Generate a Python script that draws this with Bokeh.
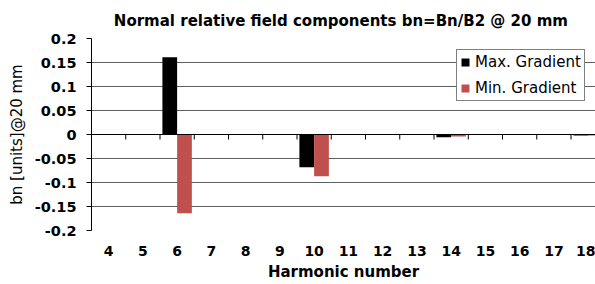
from bokeh.plotting import figure
from bokeh.models import ColumnDataSource, FixedTicker, Legend, LegendItem, Span
from bokeh.transform import dodge
from bokeh.embed import file_html
from bokeh.resources import INLINE

# ---- data ----
harmonics = [4, 5, 6, 7, 8, 9, 10, 11, 12, 13, 14, 15, 16, 17, 18]
max_gradient = [0, 0, 0.161, 0, 0, 0, -0.068, 0, 0, 0, -0.0055, 0, 0, 0, -0.002]
min_gradient = [0, 0, -0.164, 0, 0, 0, -0.087, 0, 0, 0, -0.004, 0, 0, 0, -0.002]
y_ticks = [-0.2, -0.15, -0.1, -0.05, 0, 0.05, 0.1, 0.15, 0.2]
y_tick_labels = ["-0.2", "-0.15", "-0.1", "-0.05", "0", "0.05", "0.1", "0.15", "0.2"]
series_names = ["Max. Gradient", "Min. Gradient"]
series_colors = ["#000000", "#c0504d"]
title_text = "Normal  relative field components bn=Bn/B2 @ 20 mm"
x_label = "Harmonic number"
y_label = "bn [units]@20 mm"

src = ColumnDataSource(dict(x=harmonics, mx=max_gradient, mn=min_gradient))

p = figure(width=595, height=284, output_backend="svg", toolbar_location=None,
           x_range=(3.5, 18.215), y_range=(-0.2, 0.2),
           min_border_left=91, min_border_right=0, min_border_top=36, min_border_bottom=54)
p.outline_line_color = None
p.background_fill_color = "white"
p.border_fill_color = "white"

p.title.text = title_text
p.title.text_font = "DejaVu Sans"
p.title.text_font_style = "bold"
p.title.text_font_size = "15px"
p.title.align = "center"
p.title.text_color = "#000000"
p.title.standoff = 18
p.title.text_line_height = 0.6

# bars
w = 0.43
r1 = p.vbar(x=dodge("x", -w / 2, range=p.x_range), top="mx", bottom=0, width=w,
            source=src, fill_color=series_colors[0], line_color=None)
r2 = p.vbar(x=dodge("x", w / 2, range=p.x_range), top="mn", bottom=0, width=w,
            source=src, fill_color=series_colors[1], line_color=None)

# zero line with category tick marks
p.add_layout(Span(location=0, dimension="width", line_color="#000000", line_width=1))
bounds = [h + 0.5 for h in harmonics[:-1]]
p.segment(x0=bounds, x1=bounds, y0=[0] * len(bounds), y1=[-0.0105] * len(bounds),
          line_color="#000000", line_width=1)

# grid
p.xgrid.grid_line_color = None
p.ygrid.ticker = FixedTicker(ticks=y_ticks)
p.ygrid.grid_line_color = "#5e5e5e"
p.ygrid.grid_line_width = 1

# y axis
p.yaxis.ticker = FixedTicker(ticks=y_ticks)
p.yaxis.major_label_overrides = {t: l for t, l in zip(y_ticks, y_tick_labels)}
p.yaxis.axis_line_color = "#000000"
p.yaxis.major_tick_line_color = "#000000"
p.yaxis.major_tick_out = 5
p.yaxis.major_tick_in = 0
p.yaxis.minor_tick_line_color = None
p.yaxis.major_label_standoff = 10
p.yaxis.major_label_text_font = "DejaVu Sans"
p.yaxis.major_label_text_font_style = "bold"
p.yaxis.major_label_text_font_size = "14.5px"
p.yaxis.major_label_text_color = "#000000"
p.yaxis.axis_label = y_label
p.yaxis.axis_label_text_font = "DejaVu Sans"
p.yaxis.axis_label_text_font_style = "normal"
p.yaxis.axis_label_text_font_size = "15px"
p.yaxis.axis_label_text_color = "#000000"
p.yaxis.axis_label_standoff = 6

# x axis (labels only, at the bottom)
p.xaxis.ticker = FixedTicker(ticks=harmonics)
p.xaxis.axis_line_color = None
p.xaxis.major_tick_line_color = None
p.xaxis.minor_tick_line_color = None
p.xaxis.major_label_standoff = 9
p.xaxis.major_label_text_font = "DejaVu Sans"
p.xaxis.major_label_text_font_style = "bold"
p.xaxis.major_label_text_font_size = "14px"
p.xaxis.major_label_text_color = "#000000"
p.xaxis.axis_label = x_label
p.xaxis.axis_label_text_font = "DejaVu Sans"
p.xaxis.axis_label_text_font_style = "bold"
p.xaxis.axis_label_text_font_size = "15px"
p.xaxis.axis_label_text_color = "#000000"
p.xaxis.axis_label_standoff = 4

legend = Legend(items=[LegendItem(label=series_names[0], renderers=[r1]),
                       LegendItem(label=series_names[1], renderers=[r2])],
                location=(365, 129))
legend.border_line_color = "#000000"
legend.border_line_width = 1
legend.background_fill_alpha = 1
legend.padding = 3
legend.spacing = 8
legend.label_height = 17
legend.glyph_height = 10
legend.glyph_width = 10
legend.label_standoff = 5
legend.margin = 0
legend.label_text_font = "DejaVu Sans"
legend.label_text_font_size = "15px"
legend.label_text_color = "#000000"
p.add_layout(legend)

open("out.html", "w").write(file_html(p, INLINE))
